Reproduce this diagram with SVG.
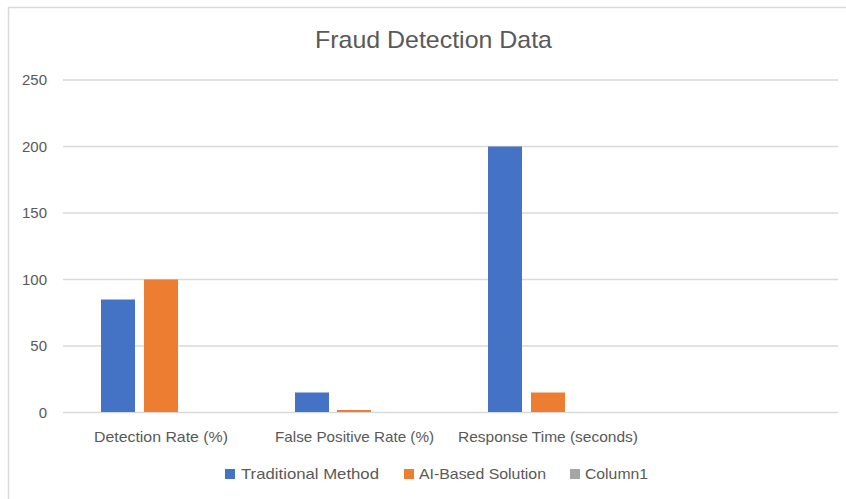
<svg xmlns="http://www.w3.org/2000/svg" width="846" height="499" viewBox="0 0 846 499">
<style>
text{font-family:"Liberation Sans",Arial,sans-serif;fill:#595959}
.ax{font-size:15px;text-anchor:end}
.cat{font-size:15px}
.lg{font-size:15px}
.grid{stroke:#d9d9d9;stroke-width:1.3}
.b{fill:#4472c4}.o{fill:#ed7d31}.g{fill:#a5a5a5}
</style>
<rect x="0" y="0" width="846" height="499" fill="#ffffff"/>
<path d="M8.5,520 V7.5 H860" fill="none" stroke="#d9d9d9" stroke-width="1.5"/>
<g id="title"><text x="315" y="48" font-size="24" textLength="237" lengthAdjust="spacingAndGlyphs">Fraud Detection Data</text></g>
<g id="gridlines">
<line class="grid" x1="63" y1="80" x2="838" y2="80"/>
<line class="grid" x1="63" y1="146.5" x2="838" y2="146.5"/>
<line class="grid" x1="63" y1="213" x2="838" y2="213"/>
<line class="grid" x1="63" y1="279.5" x2="838" y2="279.5"/>
<line class="grid" x1="63" y1="346" x2="838" y2="346"/>
<line class="grid" x1="63" y1="412.5" x2="838" y2="412.5"/>
</g>
<g id="yaxis">
<text class="ax" x="47" y="85">250</text>
<text class="ax" x="47" y="151.5">200</text>
<text class="ax" x="47" y="218">150</text>
<text class="ax" x="47" y="284.5">100</text>
<text class="ax" x="47" y="351">50</text>
<text class="ax" x="47" y="417.5">0</text>
</g>
<g id="bars">
<rect class="b" x="101" y="299.5" width="34" height="112.5"/>
<rect class="o" x="144" y="279.5" width="34" height="132.5"/>
<rect class="b" x="295" y="392.5" width="34" height="19.5"/>
<rect class="o" x="337" y="410" width="34" height="2"/>
<rect class="b" x="488" y="146.5" width="34" height="265.5"/>
<rect class="o" x="531" y="392.5" width="34" height="19.5"/>
</g>
<g id="categories">
<text class="cat" x="94" y="442" textLength="134" lengthAdjust="spacingAndGlyphs">Detection Rate (%)</text>
<text class="cat" x="275" y="442" textLength="159" lengthAdjust="spacingAndGlyphs">False Positive Rate (%)</text>
<text class="cat" x="458" y="442" textLength="180" lengthAdjust="spacingAndGlyphs">Response Time (seconds)</text>
</g>
<g id="legend">
<rect class="b" x="225" y="469" width="10" height="10"/>
<text class="lg" x="241" y="479" textLength="138" lengthAdjust="spacingAndGlyphs">Traditional Method</text>
<rect class="o" x="404" y="469" width="10" height="10"/>
<text class="lg" x="419" y="479" textLength="127" lengthAdjust="spacingAndGlyphs">AI-Based Solution</text>
<rect class="g" x="570" y="469" width="10" height="10"/>
<text class="lg" x="585" y="479" textLength="63" lengthAdjust="spacingAndGlyphs">Column1</text>
</g>
</svg>
